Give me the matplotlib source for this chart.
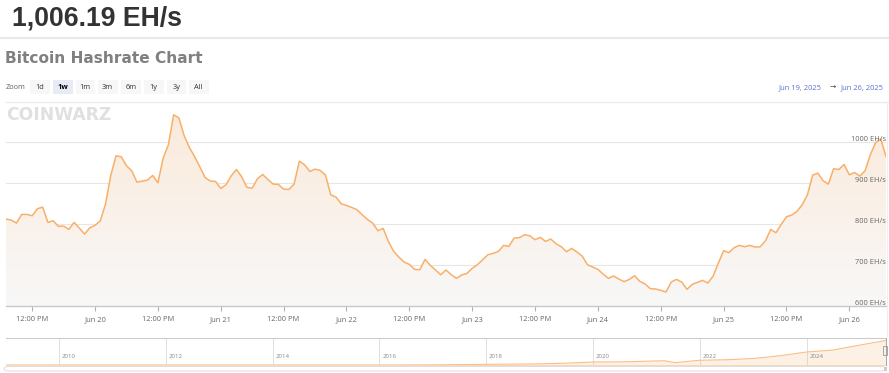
import numpy as np
import pandas as pd
import matplotlib
matplotlib.use('Agg')
import matplotlib.pyplot as plt
import matplotlib.dates as mdates
from matplotlib.patches import Rectangle, FancyBboxPatch
from matplotlib.lines import Line2D
from matplotlib.colors import LinearSegmentedColormap
from matplotlib.transforms import blended_transform_factory

# ---------------- data ----------------
start_time = '2025-06-19 07:00'
hashrate = [
    812.2, 809.7, 802.4, 823.6, 823.6, 820.3, 837.4, 841.5, 804.1, 808.1, 794.3, 795.1, 787.0, 804.1,
    790.2, 775.6, 791.0, 796.8, 808.1, 848.8, 918.7, 966.7, 964.2, 942.3, 930.1, 902.4, 904.9, 907.3,
    918.7, 900.8, 961.0, 993.5, 1066.7, 1059.3, 1016.3, 987.0, 965.0, 939.8, 913.8, 904.9, 904.1, 887.0,
    895.9, 917.9, 933.3, 915.4, 889.4, 887.8, 910.6, 921.1, 908.9, 897.6, 896.7, 885.4, 884.6, 897.6,
    953.7, 944.7, 928.5, 934.1, 930.9, 919.5, 871.5, 865.9, 849.6, 845.5, 840.6, 835.0, 822.8, 811.4,
    802.4, 783.7, 789.4, 757.7, 733.3, 719.5, 707.3, 701.6, 689.4, 688.6, 713.8, 699.2, 687.8,
    676.4, 687.8, 676.4, 667.5, 675.6, 679.7, 691.9, 700.8, 713.0, 725.2, 728.5, 733.3, 748.0, 745.5,
    765.9, 766.7, 774.0, 771.5, 761.8, 767.5, 757.7, 763.4, 752.0, 744.7, 732.5, 740.7, 731.7, 721.9,
    700.8, 695.1, 689.4, 678.0, 667.5, 673.2, 665.8, 659.3, 665.0, 673.9, 660.2, 653.6, 642.3, 641.5,
    638.2, 634.1, 658.5, 665.0, 658.5, 640.6, 652.8, 657.7, 662.6, 656.1, 673.2, 704.9, 734.9, 730.1,
    742.3, 748.0, 744.7, 748.0, 743.9, 744.7, 759.3, 787.0, 778.9, 799.2, 817.9, 821.9, 830.9, 847.2,
    871.5, 919.5, 924.4, 905.7, 897.6, 935.0, 933.3, 945.5, 920.3, 926.0, 917.1, 930.1, 969.1, 998.4,
    1008.1, 965.0,
]
tick_times = ['2025-06-19 12:00', '2025-06-20 00:00', '2025-06-20 12:00', '2025-06-21 00:00',
              '2025-06-21 12:00', '2025-06-22 00:00', '2025-06-22 12:00', '2025-06-23 00:00',
              '2025-06-23 12:00', '2025-06-24 00:00', '2025-06-24 12:00', '2025-06-25 00:00',
              '2025-06-25 12:00', '2025-06-26 00:00']
tick_labels = ['12:00 PM', 'Jun 20', '12:00 PM', 'Jun 21', '12:00 PM', 'Jun 22', '12:00 PM',
               'Jun 23', '12:00 PM', 'Jun 24', '12:00 PM', 'Jun 25', '12:00 PM', 'Jun 26']
y_ticks = [600, 700, 800, 900, 1000]
y_labels = ['600 EH/s', '700 EH/s', '800 EH/s', '900 EH/s', '1000 EH/s']

nav_dates = ['2009-01-03', '2015-01-01', '2016-01-01', '2017-01-01', '2018-01-01', '2019-01-01',
             '2019-07-01', '2020-01-01', '2020-07-01', '2021-01-01', '2021-05-01', '2021-07-15',
             '2022-01-01', '2022-07-01', '2023-01-01', '2023-07-01', '2024-01-01', '2024-07-01',
             '2025-01-01', '2025-06-26']
nav_values = [0, 1, 2, 6, 25, 45, 75, 120, 125, 150, 170, 95, 190, 210, 260, 370, 520, 600, 800, 980]
nav_years = ['2010', '2012', '2014', '2016', '2018', '2020', '2022', '2024']

zoom_buttons = ['1d', '1w', '1m', '3m', '6m', '1y', '3y', 'All']
selected_button = '1w'
header_value = '1,006.19 EH/s'
title = 'Bitcoin Hashrate Chart'
range_from = 'Jun 19, 2025'
range_to = 'Jun 26, 2025'

# ---------------- figure ----------------
W, H = 889, 373
fig = plt.figure(figsize=(W / 100, H / 100), dpi=100)
fig.patch.set_facecolor('white')
TF = fig.transFigure


def fx(x):
    return x / W


def fy(y):
    return 1 - y / H


LABEL = '#666666'
FONT = 'Open Sans'

# header
fig.text(fx(11.5), fy(25), header_value, fontsize=19.2, fontweight='bold', color='#333333',
         family='Liberation Sans', va='baseline', ha='left')
fig.add_artist(Line2D([0, 1], [fy(37.7), fy(37.7)], transform=TF, color='#e8e8e8', lw=1.6))
fig.text(fx(5), fy(63.3), title, fontsize=11.1, fontweight='bold', color='#808080',
         family='DejaVu Sans', va='baseline', ha='left')

# zoom buttons
fig.text(fx(6), fy(87.3), 'Zoom', fontsize=5.4, color=LABEL, family=FONT, va='center', ha='left')
btn_x = [30, 53, 75.5, 98, 121, 144, 166.5, 189]
for bx, lab in zip(btn_x, zoom_buttons):
    sel = lab == selected_button
    fig.add_artist(Rectangle((fx(bx), fy(94)), 19.5 / W, 14 / H, transform=TF,
                             facecolor='#e6ebf5' if sel else '#f7f7f7', edgecolor='none'))
    fig.text(fx(bx + 9.75), fy(87.3), lab, fontsize=5.4, color='#000000' if sel else '#333333',
             fontweight='bold' if sel else 'normal', family=FONT, va='center', ha='center')

fig.text(fx(884), fy(87.3), range_to, fontsize=5.4, color='#5a6fd8', family=FONT,
         va='center', ha='right')
fig.text(fx(833), fy(87.3), '\u2192', fontsize=5.4, color='#444444', family='DejaVu Sans',
         va='center', ha='center')
fig.text(fx(822), fy(87.3), range_from, fontsize=5.4, color='#5a6fd8', family=FONT,
         va='center', ha='right')

fig.add_artist(Line2D([fx(6), 1], [fy(101.8), fy(101.8)], transform=TF, color='#ececec', lw=1.0))
fig.add_artist(Line2D([fx(887), fx(887)], [fy(102), fy(336)], transform=TF, color='#eeeeee', lw=0.8))

# ---------------- main chart ----------------
times = pd.date_range(start_time, periods=len(hashrate), freq='h')
xn = mdates.date2num(times)
ymin, ymax = 600, 1098

ax = fig.add_axes([fx(6), fy(306), 880 / W, 204 / H])
ax.set_facecolor('none')
for s in ['top', 'left', 'right']:
    ax.spines[s].set_visible(False)
ax.spines['bottom'].set_color('#c8c8c8')
ax.spines['bottom'].set_linewidth(1.0)

for yv in y_ticks[1:]:
    ax.axhline(yv, color='#e6e6e6', lw=0.8, zorder=0)

poly = ax.fill_between(xn, hashrate, ymin, color='none', lw=0)
grad = np.linspace(0, 1, 256).reshape(-1, 1)
cmap = LinearSegmentedColormap.from_list('g', [(0.972, 0.972, 0.972), (0.985, 0.915, 0.85)])
im = ax.imshow(grad, extent=[xn[0], xn[-1], ymin, ymax], origin='lower', aspect='auto',
               cmap=cmap, zorder=1, interpolation='bilinear')
im.set_clip_path(poly.get_paths()[0], transform=ax.transData)
ax.plot(xn, hashrate, color='#f8b069', lw=1.1, zorder=3, solid_joinstyle='round')

ax.set_xlim(xn[0], xn[-1])
ax.set_ylim(ymin, ymax)
ax.set_yticks([])
ax.set_xticks(mdates.date2num(pd.to_datetime(tick_times)))
ax.set_xticklabels(tick_labels, fontsize=5.4, color=LABEL, family=FONT)
ax.tick_params(axis='x', direction='out', length=3.6, width=0.8, color='#b0b0b0', pad=3.5)

trans = blended_transform_factory(ax.transAxes, ax.transData)
for yv, lab in zip(y_ticks, y_labels):
    ax.annotate(lab, xy=(1.0, yv), xycoords=trans, xytext=(0, 1.0), textcoords='offset points',
                fontsize=5.4, color=LABEL, family=FONT, ha='right', va='baseline', zorder=5)

# watermark
fig.text(fx(6), fy(119.5), 'COINWARZ', fontsize=12.3, fontweight='heavy', color='#e0e0e0',
         family='DejaVu Sans', va='baseline', ha='left')

# ---------------- navigator ----------------
nav = fig.add_axes([fx(6), fy(365), 880 / W, 27 / H])
nav.set_facecolor('none')
for s in nav.spines.values():
    s.set_visible(False)
nd = mdates.date2num(pd.to_datetime(nav_dates))
nav.fill_between(nd, nav_values, 0, color='#f7a35c', alpha=0.16, lw=0)
nav.plot(nd, nav_values, color='#f8bf88', lw=0.8)
nav.set_xlim(mdates.date2num(pd.Timestamp('2009-01-03')), mdates.date2num(pd.Timestamp('2025-06-26 07:00')))
nav.set_ylim(0, 1080)
nav.set_xticks([])
nav.set_yticks([])
for yr in nav_years:
    xd = mdates.date2num(pd.Timestamp(yr + '-01-01'))
    nav.axvline(xd, color='#e0e0e0', lw=0.7, zorder=0)
    nav.annotate(yr, xy=(xd, 0), xycoords=blended_transform_factory(nav.transData, nav.transAxes),
                 xytext=(2, 4.8), textcoords='offset points', fontsize=4.4, color='#888888',
                 family=FONT, ha='left', va='baseline')

fig.add_artist(Line2D([fx(6), fx(886)], [fy(338.3), fy(338.3)], transform=TF, color='#cccccc', lw=0.8))
fig.add_artist(Line2D([fx(6), fx(886)], [fy(365.3), fy(365.3)], transform=TF, color='#f9d2ae', lw=0.6))

# handle at the right of the navigator
fig.add_artist(Rectangle((fx(882.5), fy(355)), 4 / W, 9 / H, transform=TF,
                         facecolor='#f2f2f2', edgecolor='#999999', lw=0.6))
fig.add_artist(Line2D([fx(886.3), fx(886.3)], [fy(338), fy(365)], transform=TF, color='#999999', lw=0.6))

# scrollbar
fig.add_artist(FancyBboxPatch((fx(4), fy(371)), 882 / W, 4.5 / H, transform=TF,
                              boxstyle='round,pad=0,rounding_size=0.006',
                              facecolor='white', edgecolor='#dddddd', lw=0.7))
fig.add_artist(Rectangle((fx(883.5), fy(371)), 3 / W, 4.5 / H, transform=TF,
                         facecolor='#cccccc', edgecolor='none'))

fig.savefig('out.png', dpi=100, facecolor='white')
